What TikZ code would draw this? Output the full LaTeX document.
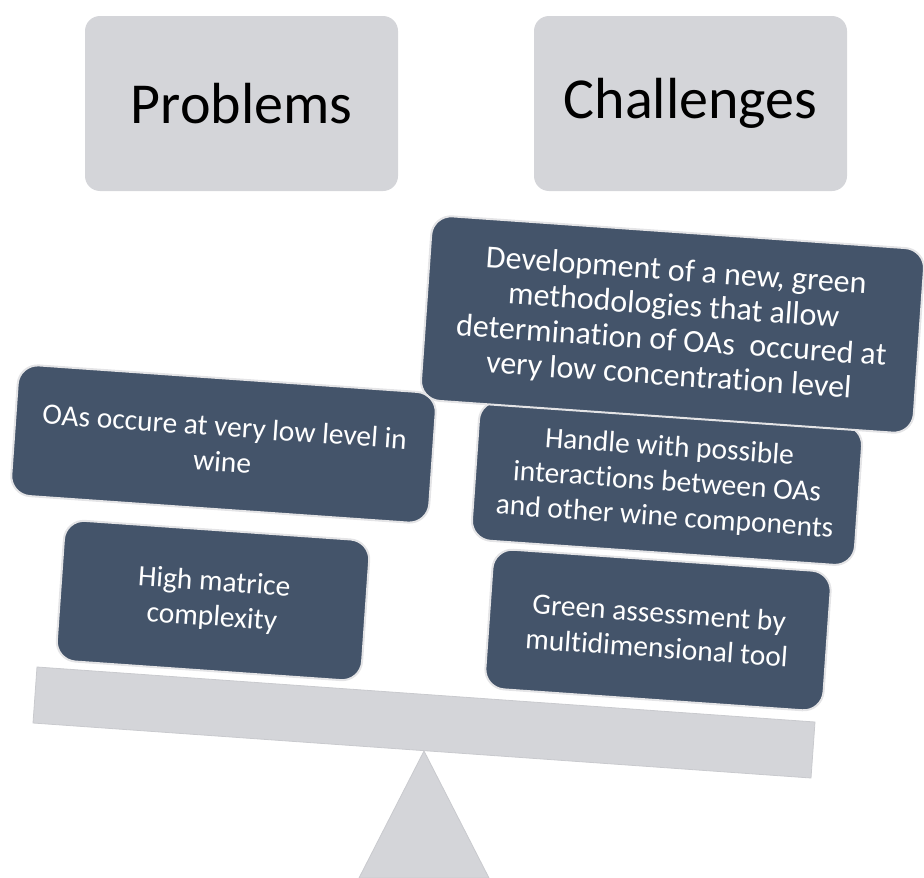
\documentclass[tikz,border=0pt]{standalone}
\usepackage{fontspec}
\setmainfont{Carlito}[Ligatures=NoCommon]
\definecolor{darkbox}{HTML}{44546A}
\definecolor{lightbox}{HTML}{D4D5D9}
\definecolor{boxedge}{HTML}{E4E4E6}
\tikzset{
  headbox/.style={fill=lightbox, draw=none, rounded corners=15pt, inner sep=0pt,
    font=\fontsize{58}{68}\selectfont, text=black},
  itembox/.style={fill=darkbox, draw=boxedge, line width=2pt, rounded corners=20pt,
    inner sep=0pt, rotate=-4, align=center, text=white,
    font=\fontsize{29.5}{35}\selectfont},
  bigitem/.style={font=\fontsize{32}{35}\selectfont},
  scalepart/.style={fill=lightbox, draw=lightbox!95!black, line width=0.8pt}
}
\begin{document}
\begin{tikzpicture}[x=1pt, y=-1pt]
\useasboundingbox (0,0) rectangle (924,878);
% header boxes
\node[headbox, minimum width=313pt, minimum height=175pt] (problems) at (241.5,103.5) {Problems};
\node[headbox, minimum width=313pt, minimum height=175pt] (challenges) at (690.5,103.5) {Challenges};
% scale
\draw[scalepart] (424,751) -- (489,878) -- (359,878) -- cycle;
\draw[scalepart] (37,667) -- (815,722) -- (811,778) -- (33,723) -- cycle;
% problem boxes
\node[itembox, minimum width=419pt, minimum height=131pt] (p1) at (223.5,444) {OAs occure at very low level in\\wine};
\node[itembox, minimum width=306pt, minimum height=141pt] (p2) at (213,600.5) {High matrice\\complexity};
% challenge boxes
\node[itembox, minimum width=339pt, minimum height=140pt] (c3) at (658,630) {Green assessment by\\multidimensional tool};
\node[itembox, minimum width=384pt, minimum height=140pt] (c2) at (667,483) {Handle with possible\\interactions between OAs\\and other wine components};
\node[itembox, bigitem, minimum width=494pt, minimum height=185pt] (c1) at (672.5,324.5) {Development of a new, green\\methodologies that allow\\determination of OAs\ \ occured at\\very low concentration level};
\end{tikzpicture}
\end{document}
